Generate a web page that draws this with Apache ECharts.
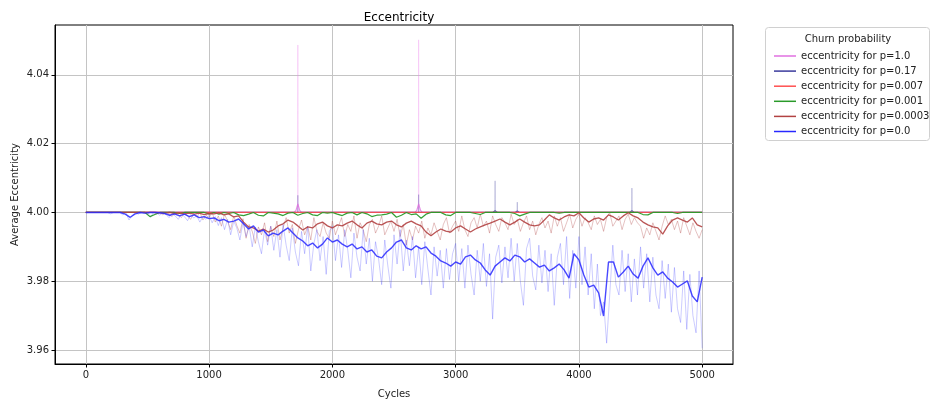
<!DOCTYPE html>
<html lang="en">
<head>
    <meta charset="UTF-8">
    <title>Eccentricity</title>
    <script src="https://cdn.jsdelivr.net/npm/echarts@6/dist/echarts.min.js"></script>
    <style>
        body { margin: 0; background: #fff; }
        #chart { width: 933px; height: 401px; }
    </style>
</head>
<body>
<div id="chart"></div>

<script>
    // x sampling of the traces (cycles)
    var smoothStep = 40;
    var rawStep = 25;
    var xTicks = [0, 1000, 2000, 3000, 4000, 5000];
    var yTicks = [3.96, 3.98, 4.00, 4.02, 4.04];

    var names = ['eccentricity for p=1.0', 'eccentricity for p=0.17', 'eccentricity for p=0.007',
        'eccentricity for p=0.001', 'eccentricity for p=0.0003', 'eccentricity for p=0.0'];

    // p = 1.0 : flat with two single-cycle spikes
    var pinkRawCycles = [0, 1718, 1720, 1722, 2698, 2700, 2702, 5000];
    var pinkRawValues = [4.0, 4.0, 4.0487, 4.0, 4.0, 4.0502, 4.0, 4.0];
    var pinkCycles = [0, 1690, 1705, 1720, 1735, 1750, 2670, 2685, 2700, 2715, 2730, 5000];
    var pinkValues = [4.0, 4.0, 4.0006, 4.0025, 4.0006, 4.0, 4.0, 4.0006, 4.0025, 4.0006, 4.0, 4.0];

    // p = 0.17
    var navyRawCycles = [0, 1718, 1720, 1722, 2698, 2700, 2702, 3318, 3320, 3322, 3498, 3500, 3502, 4428, 4430, 4432, 5000];
    var navyRawValues = [4.0, 4.0, 4.0050, 4.0, 4.0, 4.0052, 4.0, 4.0, 4.0092, 4.0, 4.0, 4.0030, 4.0, 4.0, 4.0071, 4.0, 4.0];
    var navyCycles = [0, 3300, 3320, 3340, 3480, 3500, 3520, 4410, 4430, 4450, 5000];
    var navyValues = [4.0, 4.0, 4.0005, 4.0, 4.0, 4.0004, 4.0, 4.0, 4.0005, 4.0, 4.0];

    // p = 0.007
    var redCycles = [0, 500, 1000, 1500, 2000, 2500, 3000, 3500, 4000, 4500, 5000];
    var redValues = [4.0, 4.0, 4.0, 4.0, 4.0, 4.0, 4.0, 4.0, 4.0, 4.0, 4.0];

    // p = 0.001 (smoothed, every 40 cycles)
    var greenValues = [
        4.0, 4.0, 4.0, 4.0, 4.0, 4.0, 4.0, 4.0, 4.0, 4.0, 4.0, 4.0, 4.0, 3.9988, 3.9994, 4.0, 4.0, 4.0, 4.0, 3.9997,
        4.0, 4.0, 4.0, 4.0, 4.0, 3.9996, 4.0, 3.9995, 4.0, 3.9997, 4.0, 3.9993, 3.9991, 3.9995, 4.0, 3.9992, 3.9990, 4.0, 3.9998, 3.9996,
        3.9991, 3.9998, 4.0, 3.9992, 3.9997, 4.0, 3.9993, 3.9991, 4.0, 3.9998, 4.0, 3.9995, 3.9991, 3.9998, 4.0, 3.9993, 4.0, 3.9996, 3.9988, 3.9992,
        3.9993, 3.9995, 4.0, 3.9986, 3.9992, 4.0, 3.9994, 3.9996, 3.9983, 3.9995, 4.0, 4.0, 4.0, 3.9993, 3.9991, 4.0, 4.0, 4.0, 4.0, 3.9997,
        3.9994, 4.0, 4.0, 4.0, 4.0, 4.0, 4.0, 3.9997, 3.9990, 3.9995, 4.0, 4.0, 4.0, 4.0, 4.0, 4.0, 3.9998, 4.0, 4.0, 4.0,
        4.0, 4.0, 4.0, 4.0, 4.0, 4.0, 4.0, 4.0, 4.0, 4.0, 4.0, 4.0, 4.0, 3.9994, 3.9993, 4.0, 4.0, 4.0, 4.0, 4.0,
        3.9997, 4.0, 4.0, 4.0, 4.0, 4.0
    ];

    // p = 0.0003
    var brownValues = [
        4.0, 4.0, 4.0, 4.0, 4.0, 4.0, 4.0, 4.0, 4.0, 4.0, 4.0, 4.0, 4.0, 4.0, 4.0, 3.9999, 3.9998, 4.0, 3.9997, 3.9999,
        3.9996, 3.9998, 3.9995, 3.9998, 3.9994, 3.9997, 3.9996, 3.9999, 3.9993, 3.9996, 3.9987, 3.9990, 3.9972, 3.9958, 3.9955, 3.9946, 3.9952, 3.9943, 3.9949, 3.9961,
        3.9967, 3.9978, 3.9972, 3.9961, 3.9949, 3.9958, 3.9955, 3.9967, 3.9972, 3.9961, 3.9955, 3.9964, 3.9961, 3.9969, 3.9975, 3.9964, 3.9955, 3.9969, 3.9975, 3.9967,
        3.9964, 3.9972, 3.9975, 3.9964, 3.9958, 3.9969, 3.9975, 3.9967, 3.9961, 3.9943, 3.9932, 3.9943, 3.9952, 3.9946, 3.9943, 3.9955, 3.9961, 3.9952, 3.9943, 3.9952,
        3.9958, 3.9964, 3.9969, 3.9975, 3.9981, 3.9972, 3.9964, 3.9972, 3.9981, 3.9972, 3.9964, 3.9961, 3.9964, 3.9978, 3.9993, 3.9984, 3.9978, 3.9987, 3.9993, 3.9990,
        3.9999, 3.9984, 3.9972, 3.9981, 3.9984, 3.9978, 3.9993, 3.9987, 3.9978, 3.9990, 3.9999, 3.9990, 3.9984, 3.9972, 3.9964, 3.9958, 3.9955, 3.9937, 3.9961, 3.9978,
        3.9984, 3.9978, 3.9972, 3.9984, 3.9964, 3.9958
    ];
    // raw trace, every 25 cycles
    var brownRaw = [
        4.0, 4.0, 4.0, 4.0, 4.0, 4.0, 4.0, 4.0, 4.0, 4.0, 4.0, 4.0, 4.0, 4.0, 4.0, 4.0, 4.0, 4.0, 4.0, 4.0, 3.9997, 4.0, 4.0, 3.9996,
        4.0, 3.9993, 4.0, 3.9996, 3.9988, 4.0, 3.9994, 3.9985, 4.0, 3.9990, 3.9980, 3.9997, 3.9986, 4.0, 3.9978, 3.9992,
        3.9985, 4.0, 3.9972, 3.9990, 3.9960, 3.9995, 3.9975, 3.9950, 3.9990, 3.9962, 3.9940, 3.9982, 3.9925, 3.9965, 3.9945, 3.9910, 3.9958, 3.9935, 3.9970, 3.9915,
        3.9960, 3.9930, 3.9975, 3.9920, 3.9955, 3.9985, 3.9940, 3.9965, 3.9910, 3.9950, 3.9978, 3.9935, 3.9960, 3.9920, 3.9985, 3.9945, 3.9930, 3.9970, 3.9940, 3.9925,
        3.9975, 3.9935, 3.9960, 3.9985, 3.9930, 3.9965, 3.9945, 3.9990, 3.9925, 3.9970, 3.9950, 3.9915, 3.9965, 3.9980, 3.9940, 3.9960, 3.9990, 3.9935, 3.9955, 3.9975,
        3.9945, 3.9980, 3.9930, 3.9965, 3.9905, 3.9950, 3.9920, 3.9960, 3.9940, 3.9975, 3.9925, 3.9955, 3.9935, 3.9970, 3.9945, 3.9920, 3.9965, 3.9985, 3.9940, 3.9960,
        3.9975, 3.9945, 3.9990, 3.9950, 3.9930, 3.9970, 3.9985, 3.9955, 3.9995, 3.9960, 3.9975, 3.9940, 3.9990, 3.9965, 3.9945, 3.9985, 3.9970, 3.9950, 3.9995, 3.9965,
        3.9980, 3.9945, 3.9970, 3.9990, 3.9950, 3.9975, 3.9935, 3.9965, 3.9985, 3.9955, 3.9975, 3.9940, 3.9990, 3.9960, 3.9985, 3.9945, 3.9970, 3.9995, 3.9955, 3.9980,
        3.9995, 3.9960, 3.9985, 3.9970, 3.9950, 3.9990, 3.9965, 3.9980, 3.9945, 3.9985, 4.0, 3.9960, 3.9975, 3.9990, 3.9950, 3.9980, 3.9995, 3.9965, 3.9985, 3.9970,
        3.9960, 3.9925, 3.9955, 3.9935, 3.9970, 3.9945, 3.9920, 3.9960, 3.9990, 3.9965, 3.9980, 3.9950, 3.9975, 3.9940, 3.9985, 3.9960, 3.9935, 3.9970, 3.9945, 3.9925, 3.9950
    ];

    // p = 0.0
    var blueValues = [
        4.0, 4.0, 4.0, 4.0, 4.0, 4.0, 4.0, 4.0, 3.9995, 3.9986, 3.9996, 4.0, 3.9998, 4.0, 4.0, 3.9999, 3.9997, 3.9992, 3.9996, 3.9990,
        3.9995, 3.9988, 3.9993, 3.9985, 3.9988, 3.9982, 3.9984, 3.9976, 3.9980, 3.9972, 3.9975, 3.9981, 3.9967, 3.9952, 3.9961, 3.9943, 3.9949, 3.9932, 3.9940, 3.9935,
        3.9946, 3.9955, 3.9940, 3.9926, 3.9917, 3.9903, 3.9911, 3.9897, 3.9908, 3.9926, 3.9914, 3.9920, 3.9908, 3.9900, 3.9908, 3.9894, 3.9900, 3.9885, 3.9891, 3.9873,
        3.9868, 3.9885, 3.9897, 3.9914, 3.9920, 3.9897, 3.9891, 3.9903, 3.9894, 3.9900, 3.9882, 3.9873, 3.9859, 3.9853, 3.9844, 3.9856, 3.9850, 3.9871, 3.9876, 3.9862,
        3.9853, 3.9833, 3.9818, 3.9844, 3.9856, 3.9868, 3.9859, 3.9876, 3.9871, 3.9856, 3.9865, 3.9853, 3.9841, 3.9847, 3.9830, 3.9839, 3.9850, 3.9833, 3.9809, 3.9880,
        3.9862, 3.9818, 3.9783, 3.9789, 3.9766, 3.9699, 3.9856, 3.9856, 3.9812, 3.9827, 3.9844, 3.9821, 3.9809, 3.9844, 3.9868, 3.9839, 3.9818, 3.9827, 3.9809, 3.9798,
        3.9783, 3.9792, 3.9801, 3.9757, 3.9740, 3.9812
    ];
    var blueRaw = [
        4.0, 4.0, 4.0, 4.0, 4.0, 4.0, 4.0, 4.0, 3.9996, 4.0, 4.0, 4.0, 3.9993, 4.0, 3.9978, 3.9990,
        4.0, 3.9995, 4.0, 3.9997, 4.0, 3.9986, 4.0, 3.9998, 3.9992, 4.0, 3.9994, 3.9985, 3.9998, 3.9990, 3.9980, 3.9996, 3.9988, 3.9976, 3.9994, 3.9984, 3.9990, 3.9972, 3.9988, 3.9980,
        3.9992, 3.9970, 3.9988, 3.9962, 3.9985, 3.9950, 3.9980, 3.9935, 3.9975, 3.9955, 3.9920, 3.9972, 3.9930, 3.9960, 3.9900, 3.9958, 3.9915, 3.9880, 3.9950, 3.9905,
        3.9960, 3.9890, 3.9950, 3.9870, 3.9965, 3.9905, 3.9860, 3.9955, 3.9885, 3.9845, 3.9945, 3.9880, 3.9960, 3.9830, 3.9910, 3.9950, 3.9860, 3.9930, 3.9820, 3.9945,
        3.9960, 3.9860, 3.9935, 3.9840, 3.9950, 3.9890, 3.9810, 3.9940, 3.9870, 3.9830, 3.9950, 3.9850, 3.9925, 3.9800, 3.9915, 3.9865, 3.9790, 3.9920, 3.9845, 3.9780,
        3.9935, 3.9850, 3.9950, 3.9830, 3.9920, 3.9845, 3.9930, 3.9810, 3.9900, 3.9790, 3.9915, 3.9835, 3.9760, 3.9900, 3.9815, 3.9890, 3.9780, 3.9895, 3.9805, 3.9880,
        3.9910, 3.9800, 3.9895, 3.9780, 3.9905, 3.9820, 3.9760, 3.9890, 3.9800, 3.9910, 3.9785, 3.9880, 3.9690, 3.9870, 3.9905, 3.9795, 3.9900, 3.9810, 3.9925, 3.9800,
        3.9910, 3.9800, 3.9730, 3.9895, 3.9925, 3.9815, 3.9775, 3.9905, 3.9795, 3.9890, 3.9770, 3.9880, 3.9730, 3.9870, 3.9910, 3.9790, 3.9930, 3.9750, 3.9890, 3.9780,
        3.9930, 3.9790, 3.9900, 3.9760, 3.9880, 3.9720, 3.9850, 3.9700, 3.9740, 3.9620, 3.9760, 3.9905, 3.9790, 3.9760, 3.9890, 3.9770, 3.9880, 3.9740, 3.9865, 3.9760,
        3.9900, 3.9780, 3.9880, 3.9740, 3.9870, 3.9760, 3.9720, 3.9860, 3.9750, 3.9850, 3.9710, 3.9840, 3.9720, 3.9680, 3.9830, 3.9660, 3.9820, 3.9700, 3.9650, 3.9830, 3.9605
    ];

    function stepped(values, step) {
        var out = [];
        for (var i = 0; i < values.length; i++) out.push([i * step, values[i]]);
        return out;
    }
    function paired(cycles, values) {
        var out = [];
        for (var i = 0; i < cycles.length; i++) out.push([cycles[i], values[i]]);
        return out;
    }
    function line(name, data, color, width, opacity, z) {
        return {
            name: name, type: 'line', data: data, symbol: 'none', silent: true, z: z,
            lineStyle: { color: color, width: width, opacity: opacity },
            itemStyle: { color: color }
        };
    }

    var font = 'DejaVu Sans';
    var myChart = echarts.init(document.getElementById('chart'));
    var option = {
        animation: false,
        title: {
            text: 'Eccentricity', left: 394, top: 7, textAlign: 'center',
            textStyle: { fontFamily: font, fontSize: 12, fontWeight: 'normal', color: '#000' }
        },
        grid: { left: 55, right: 200, top: 25, bottom: 37, outerBoundsMode: 'none',
            show: true, borderColor: '#000', borderWidth: 1 },
        legend: {
            orient: 'vertical', left: 769, top: 45, icon: 'rect', itemWidth: 22, itemHeight: 1.5, itemGap: 3.1,
            data: names,
            textStyle: { fontFamily: font, fontSize: 10, color: '#222', lineHeight: 12 }
        },
        graphic: [
            { type: 'rect', left: 765, top: 27, shape: { width: 164, height: 113, r: 3 },
              style: { fill: '#fff', stroke: '#d0d0d0', lineWidth: 1 }, z: -1 },
            { type: 'text', x: 848, y: 39, style: { text: 'Churn probability', fontFamily: font, fontSize: 10,
              fill: '#222', align: 'center', verticalAlign: 'middle' } }
        ],
        xAxis: {
            type: 'value', min: -250, max: 5250,
            name: 'Cycles', nameLocation: 'middle', nameGap: 25, nameMoveOverlap: false,
            nameTextStyle: { fontFamily: font, fontSize: 10, color: '#222' },
            axisLine: { show: true, onZero: false, lineStyle: { color: '#000' } },
            axisTick: { show: true, length: 3.5, customValues: xTicks, lineStyle: { color: '#000' } },
            axisLabel: { customValues: xTicks, margin: 6, fontFamily: font, fontSize: 10, color: '#222',
                formatter: function (v) { return String(v); } },
            splitLine: { show: true, lineStyle: { color: '#c4c4c4', width: 1 } }
        },
        yAxis: {
            type: 'value', min: 3.95594, max: 4.05451,
            name: 'Average Eccentricity', nameLocation: 'middle', nameGap: 35, nameRotate: 90, nameMoveOverlap: false,
            nameTextStyle: { fontFamily: font, fontSize: 10, color: '#222' },
            axisLine: { show: true, onZero: false, lineStyle: { color: '#000' } },
            axisTick: { show: true, length: 3.5, customValues: yTicks, lineStyle: { color: '#000' } },
            axisLabel: { customValues: yTicks, margin: 6, fontFamily: font, fontSize: 10, color: '#222',
                formatter: function (v) { return v.toFixed(2); } },
            splitLine: { show: true, lineStyle: { color: '#c4c4c4', width: 1 } }
        },
        series: [
            line(names[0], paired(pinkCycles, pinkValues), '#e070e0', 1.2, 0.8, 3),
            line('raw p=1.0', paired(pinkRawCycles, pinkRawValues), '#ee82ee', 0.8, 0.35, 2),
            line(names[1], paired(navyCycles, navyValues), '#3a3a9c', 1.2, 0.8, 3),
            line('raw p=0.17', paired(navyRawCycles, navyRawValues), '#3a3a9c', 0.8, 0.3, 2),
            line(names[2], paired(redCycles, redValues), '#ff5050', 1.3, 0.9, 3),
            line(names[3], stepped(greenValues, smoothStep), '#2a9a2a', 1.2, 0.95, 4),
            line('raw p=0.0003', stepped(brownRaw, rawStep), '#a52a2a', 0.9, 0.32, 2),
            line(names[4], stepped(brownValues, smoothStep), '#b24242', 1.3, 0.9, 4),
            line('raw p=0.0', stepped(blueRaw, rawStep), '#3030ff', 0.9, 0.28, 2),
            line(names[5], stepped(blueValues, smoothStep), '#2828ff', 1.4, 0.85, 5)
        ]
    };
    myChart.setOption(option);
</script>

</body>
</html>
